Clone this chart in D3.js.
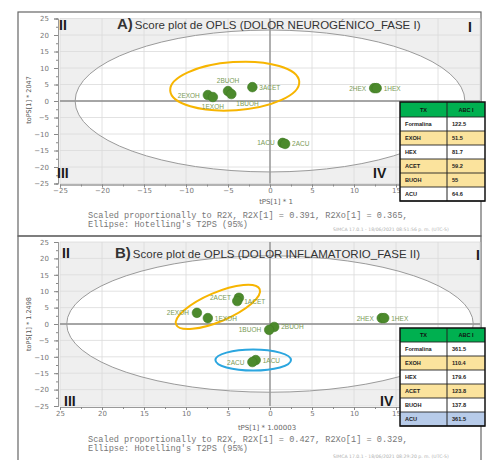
<!DOCTYPE html>
<html>
<head>
<meta charset="utf-8">
<script src="https://cdn.jsdelivr.net/npm/d3@7"></script>
<style>
body { margin: 0; background: #fff; }
svg { display: block; }
</style>
</head>
<body>
<svg width="486" height="460"></svg>
<script>
// axis ticks (both panels share the same range)
const xTicks = [-25, -20, -15, -10, -5, 0, 5, 10, 15];
const yTicks = [-25, -20, -15, -10, -5, 0, 5, 10, 15, 20, 25];
const gridVals = [-25, -20, -15, -10, -5, 0, 5, 10, 15, 20, 25];
const minorVals = d3.range(-25, 25.1, 2.5);

// Panel A scores: tPS[1] and toPS[1]
const namesA = ["2EXOH", "1EXOH", "2BUOH", "1BUOH", "3ACET", "1ACU", "2ACU", "2HEX", "1HEX"];
const tA = [-7.4, -6.8, -5.0, -4.6, -2.1, 1.5, 1.8, 12.4, 12.7];
const toA = [1.8, 1.2, 3.0, 2.1, 4.2, -12.7, -13.0, 3.9, 3.9];

// Panel B scores
const namesB = ["2ACET", "1ACET", "2EXOH", "1EXOH", "2BUOH", "1BUOH", "1ACU", "2ACU", "2HEX", "1HEX"];
const tB = [-3.7, -3.9, -8.7, -7.4, 0.5, -0.1, -1.7, -2.1, 13.3, 13.6];
const toB = [8.0, 7.0, 3.4, 1.8, -0.9, -1.8, -11.0, -11.6, 1.8, 1.8];

// Hotelling T2PS (95%) ellipse half-widths [t, to]
const t2A = [23.2, 21.5];
const t2B = [24.2, 20.8];

// hand drawn group rings: centre t, centre to, half-width t, half-width to
const ringsA = [[-4.2, 4.5, 7.7, 7.3]];
const ringsB = [[-6.2, 5.2, 5.4, 4.4], [-2.0, -11.0, 4.5, 3.2]];

// tables
const txNames = ["Formalina", "EXOH", "HEX", "ACET", "BUOH", "ACU"];
const abcA = ["122.5", "51.5", "81.7", "59.2", "55", "64.6"];
const abcB = ["361.5", "110.4", "179.6", "123.8", "137.8", "361.5"];

const svg = d3.select("svg");
const ORANGE = "#f7b500", BLUE = "#2ba6df", YELLOW = "#fbe39d", LBLUE = "#b7cbe9";

// label side for every point name (l = left, r = right, t = above, b = below)
const sideA = {"2EXOH": "l", "1EXOH": "b", "2BUOH": "t", "1BUOH": "br", "3ACET": "r",
               "1ACU": "l", "2ACU": "r", "2HEX": "l", "1HEX": "r"};
const sideB = {"2ACET": "l", "1ACET": "r", "2EXOH": "l", "1EXOH": "r", "2BUOH": "r",
               "1BUOH": "l", "1ACU": "r", "2ACU": "l", "2HEX": "l", "1HEX": "r"};

function drawPanel(o) {
    const g = svg.append("g");
    const x = d3.scaleLinear().domain([-25, 25]).range([60, 480]);
    const y = d3.scaleLinear().domain([-25, 25]).range([o.bottom, o.top]);

    // frame of the panel
    g.append("rect")
        .attr("x", 18).attr("y", o.frameTop)
        .attr("width", 463).attr("height", o.frameH)
        .attr("fill", "none").attr("stroke", "#666").attr("stroke-width", 1.2);

    // plot background, gray outside the ellipse
    g.append("rect")
        .attr("x", x(-25)).attr("y", y(25))
        .attr("width", x(25) - x(-25)).attr("height", y(-25) - y(25))
        .attr("fill", "#efefef");
    g.append("ellipse")
        .attr("cx", x(0)).attr("cy", y(0))
        .attr("rx", x(o.t2[0]) - x(0)).attr("ry", y(0) - y(o.t2[1]))
        .attr("fill", "#fff");

    // grid
    g.selectAll("line.vg").data(gridVals).enter().append("line")
        .attr("x1", d => x(d)).attr("x2", d => x(d))
        .attr("y1", y(25)).attr("y2", y(-25))
        .attr("stroke", "#dadada").attr("stroke-width", 0.8);
    g.selectAll("line.hg").data(gridVals).enter().append("line")
        .attr("y1", d => y(d)).attr("y2", d => y(d))
        .attr("x1", x(-25)).attr("x2", x(25))
        .attr("stroke", "#dadada").attr("stroke-width", 0.8);

    // zero lines
    g.append("line").attr("x1", x(0)).attr("x2", x(0)).attr("y1", y(25)).attr("y2", y(-25))
        .attr("stroke", "#8c8c8c").attr("stroke-width", 1.3);
    g.append("line").attr("y1", y(0)).attr("y2", y(0)).attr("x1", x(-25)).attr("x2", x(25))
        .attr("stroke", "#8c8c8c").attr("stroke-width", 1.3);

    // Hotelling ellipse outline
    g.append("ellipse")
        .attr("cx", x(0)).attr("cy", y(0))
        .attr("rx", x(o.t2[0]) - x(0)).attr("ry", y(0) - y(o.t2[1]))
        .attr("fill", "none").attr("stroke", "#9a9a9a").attr("stroke-width", 1);

    // axes
    g.append("g").attr("transform", `translate(${x(-25) - 2},0)`)
        .call(d3.axisLeft(y).tickValues(yTicks).tickSize(4).tickPadding(5));
    g.append("g").attr("transform", `translate(${x(-25) - 2},0)`)
        .call(d3.axisLeft(y).tickValues(minorVals).tickSize(2).tickFormat(""));
    g.append("g").attr("transform", `translate(0,${y(-25) + 1})`)
        .call(d3.axisBottom(x).tickValues(xTicks).tickSize(3).tickPadding(1).tickFormat(o.xfmt));
    g.append("g").attr("transform", `translate(0,${y(-25) + 1})`)
        .call(d3.axisBottom(x).tickValues(minorVals).tickSize(2).tickFormat(""));
    g.selectAll(".domain").attr("stroke", "#999");
    g.selectAll(".tick line").attr("stroke", "#888");
    g.selectAll(".tick text").attr("fill", "#777")
        .style("font", "7px 'DejaVu Sans', sans-serif");

    // axis titles
    g.append("text").attr("x", o.xtX).attr("y", o.xtY)
        .attr("text-anchor", "middle").attr("fill", "#666")
        .style("font", "7px 'DejaVu Sans', sans-serif")
        .text(o.xTitle);
    g.append("text")
        .attr("transform", `translate(31,${o.ytY}) rotate(-90)`)
        .attr("text-anchor", "middle").attr("fill", "#555")
        .style("font", "6.5px 'DejaVu Sans', sans-serif")
        .text(o.yTitle);

    // title
    const tt = g.append("text").attr("x", o.titleX).attr("y", o.titleY)
        .attr("fill", "#333").style("font-family", "'Liberation Sans Narrow', 'Liberation Sans', sans-serif");
    tt.append("tspan").style("font-size", "15px").style("font-weight", "bold").text(o.letter);
    tt.append("tspan").style("font-size", "11.5px").attr("dx", 2).text(o.title);

    // quadrant numerals
    const nf = "bold 14px 'Liberation Sans', Arial, sans-serif";
    [["II", o.q[0]], ["I", o.q[1]], ["III", o.q[2]], ["IV", o.q[3]]].forEach(([s, p]) => {
        g.append("text").attr("x", p[0]).attr("y", p[1]).attr("fill", "#1a1a1a")
            .style("font", nf).text(s);
    });

    // group rings
    o.rings.forEach((r, i) => {
        const cx = x(r[0]), cy = y(r[1]);
        g.append("ellipse")
            .attr("transform", `translate(${cx},${cy}) rotate(${o.ringRot[i]})`)
            .attr("rx", x(r[2]) - x(0)).attr("ry", y(0) - y(r[3]))
            .attr("fill", "none").attr("stroke", o.ringCol[i]).attr("stroke-width", 2);
    });

    // points and labels
    const pts = o.names.map((n, i) => ({name: n, t: o.t[i], to: o.to[i]}));
    g.selectAll("circle.pt").data(pts).enter().append("circle")
        .attr("cx", d => x(d.t)).attr("cy", d => y(d.to)).attr("r", 4.8)
        .attr("fill", "#4c8a2c").attr("stroke", "#3f7a24").attr("stroke-width", 0.6);
    g.selectAll("text.lb").data(pts).enter().append("text")
        .attr("x", d => {
            const s = o.side[d.name];
            if (s === "l") return x(d.t) - 8;
            if (s === "r") return x(d.t) + 7;
            if (s === "br") return x(d.t) + 5;
            return x(d.t);
        })
        .attr("y", d => {
            const s = o.side[d.name];
            if (s === "t") return y(d.to) - 8;
            if (s === "b" || s === "br") return y(d.to) + 12;
            return y(d.to) + 2.5;
        })
        .attr("text-anchor", d => {
            const s = o.side[d.name];
            return s === "l" ? "end" : (s === "r" || s === "br") ? "start" : "middle";
        })
        .attr("fill", "#7a9a55")
        .style("font", "6.5px 'Liberation Sans', Arial, sans-serif")
        .text(d => d.name);

    // footnote
    const fn = g.append("text").attr("fill", "#777")
        .style("font", "8.6px 'Liberation Mono', 'DejaVu Sans Mono', monospace");
    fn.append("tspan").attr("x", 88).attr("y", o.noteY).text(o.note);
    fn.append("tspan").attr("x", 88).attr("y", o.noteY + 8.5).text("Ellipse: Hotelling's T2PS (95%)");
    g.append("text").attr("x", 333).attr("y", o.stampY).attr("fill", "#b0b0b0")
        .style("font", "4.6px 'DejaVu Sans', sans-serif").text(o.stamp);

    // table
    const tx0 = 400, tx1 = 447, tx2 = 485, rh = 14;
    const tg = g.append("g");
    tg.append("rect").attr("x", tx0).attr("y", o.tabTop).attr("width", tx2 - tx0).attr("height", o.headH)
        .attr("fill", "#00b050");
    o.abc.forEach((v, i) => {
        tg.append("rect").attr("x", tx0).attr("y", o.tabTop + o.headH + i * rh)
            .attr("width", tx2 - tx0).attr("height", rh).attr("fill", o.rowFill[i]);
    });
    const tabBot = o.tabTop + o.headH + rh * o.abc.length;
    d3.range(o.abc.length + 1).forEach(i => {
        tg.append("line").attr("x1", tx0).attr("x2", tx2)
            .attr("y1", o.tabTop + o.headH + i * rh).attr("y2", o.tabTop + o.headH + i * rh)
            .attr("stroke", "#222").attr("stroke-width", 0.9);
    });
    tg.append("line").attr("x1", tx1).attr("x2", tx1).attr("y1", o.tabTop).attr("y2", tabBot)
        .attr("stroke", "#222").attr("stroke-width", 1);
    tg.append("rect").attr("x", tx0).attr("y", o.tabTop).attr("width", tx2 - tx0).attr("height", tabBot - o.tabTop)
        .attr("fill", "none").attr("stroke", "#111").attr("stroke-width", 1.5);
    const tf = "bold 5.6px 'Liberation Sans', Arial, sans-serif";
    tg.append("text").attr("x", (tx0 + tx1) / 2).attr("y", o.tabTop + o.headH / 2 + 2)
        .attr("text-anchor", "middle").attr("fill", "#111").style("font", tf).text("TX");
    tg.append("text").attr("x", (tx1 + tx2) / 2).attr("y", o.tabTop + o.headH / 2 + 2)
        .attr("text-anchor", "middle").attr("fill", "#111").style("font", tf).text("ABC I");
    txNames.forEach((n, i) => {
        const yy = o.tabTop + o.headH + i * rh + rh / 2 + 2;
        tg.append("text").attr("x", tx0 + 5).attr("y", yy).attr("fill", "#222").style("font", tf).text(n);
        tg.append("text").attr("x", tx1 + 5).attr("y", yy).attr("fill", "#222").style("font", tf).text(o.abc[i]);
    });
}

drawPanel({
    top: 18.5, bottom: 183.5, frameTop: 12, frameH: 224,
    t2: t2A, names: namesA, t: tA, to: toA, side: sideA,
    rings: ringsA, ringRot: [-4], ringCol: [ORANGE],
    xfmt: d3.format("d"),
    xTitle: "tPS[1] * 1", xtX: 276, xtY: 204,
    yTitle: "toPS[1] * 2047", ytY: 100,
    letter: "A)", title: "Score plot de OPLS (DOLOR NEUROGÉNICO_FASE I)", titleX: 117, titleY: 29,
    q: [[59, 30], [468, 32], [57, 178], [373, 178]],
    note: "Scaled proportionally to R2X, R2X[1] = 0.391, R2Xo[1] = 0.365,", noteY: 218,
    stamp: "SIMCA 17.0.1 - 18/06/2021 08:51:56 p. m. (UTC-5)", stampY: 231,
    abc: abcA, tabTop: 102, headH: 15,
    rowFill: ["#fff", YELLOW, "#fff", YELLOW, YELLOW, "#fff"]
});

drawPanel({
    top: 242, bottom: 406, frameTop: 236, frameH: 226,
    t2: t2B, names: namesB, t: tB, to: toB, side: sideB,
    rings: ringsB, ringRot: [-23, 0], ringCol: [ORANGE, BLUE],
    xfmt: d => String(Math.abs(d)),
    xTitle: "tPS[1] * 1.00003", xtX: 267, xtY: 430,
    yTitle: "toPS[1] * 1.2498", ytY: 324,
    letter: "B)", title: "Score plot de OPLS (DOLOR INFLAMATORIO_FASE II)", titleX: 115, titleY: 258,
    q: [[62, 258], [476, 260], [64, 406], [380, 406]],
    note: "Scaled proportionally to R2X, R2X[1] = 0.427, R2Xo[1] = 0.329,", noteY: 442,
    stamp: "SIMCA 17.0.1 - 18/06/2021 08:29:20 p. m. (UTC-5)", stampY: 458,
    abc: abcB, tabTop: 328, headH: 14,
    rowFill: ["#fff", YELLOW, "#fff", YELLOW, "#fff", LBLUE]
});
</script>
</body>
</html>
